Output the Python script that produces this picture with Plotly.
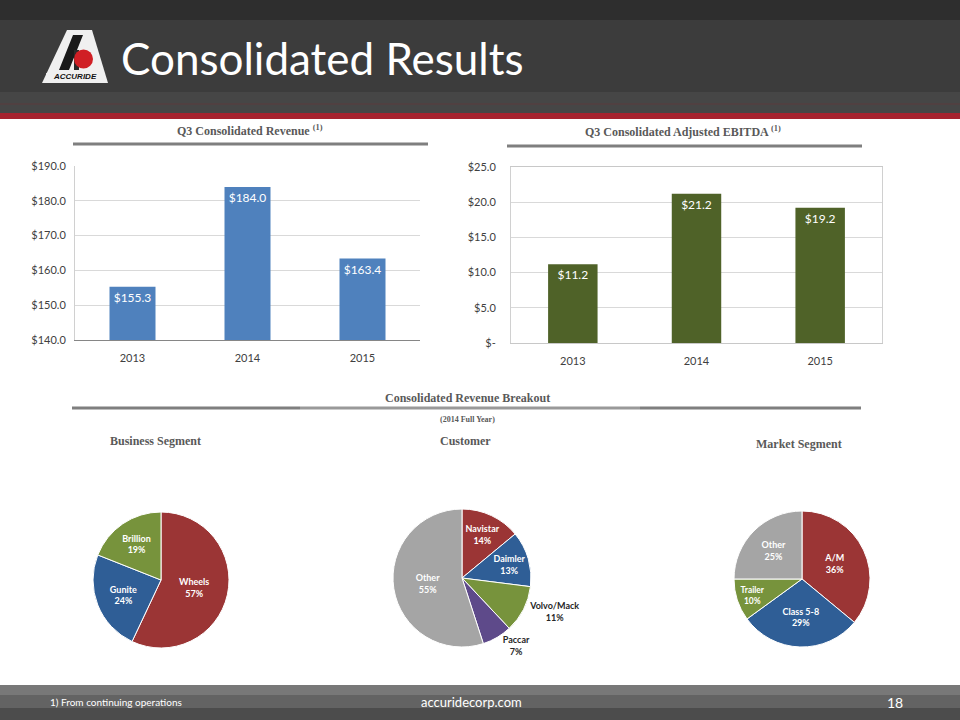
import plotly.graph_objects as go

# Q3 bar charts
years = ["2013", "2014", "2015"]
revenue = [155.3, 184.0, 163.4]
ebitda = [11.2, 21.2, 19.2]
revenue_ticks = [140, 150, 160, 170, 180, 190]
revenue_ticktext = ["$140.0", "$150.0", "$160.0", "$170.0", "$180.0", "$190.0"]
ebitda_ticks = [0, 5, 10, 15, 20, 25]
ebitda_ticktext = ["$-", "$5.0", "$10.0", "$15.0", "$20.0", "$25.0"]

# 2014 full year revenue breakout
business_labels = ["Wheels", "Gunite", "Brillion"]
business_pct = [57, 24, 19]
customer_labels = ["Navistar", "Daimler", "Volvo/Mack", "Paccar", "Other"]
customer_pct = [14, 13, 11, 7, 55]
market_labels = ["A/M", "Class 5-8", "Trailer", "Other"]
market_pct = [36, 29, 10, 25]

W, H = 960, 720
RED, BLUE, GREEN, PURPLE, GRAY = "#9B3535", "#2F5E96", "#77933C", "#5E4A8A", "#A5A5A5"
LABEL_FONT = "Lato"
SERIF = "Liberation Serif"


def px(x):
    return x / W


def py(y):
    return 1 - y / H


fig = go.Figure()

# bar charts
fig.add_trace(go.Bar(
    x=years, y=revenue, xaxis="x", yaxis="y",
    marker=dict(color="#4F81BD", line=dict(width=0)), width=0.4,
    texttemplate="$%{y:.1f}", textposition="inside", insidetextanchor="end",
    textfont=dict(color="white", size=12, family=LABEL_FONT),
    hoverinfo="x+y",
))
fig.add_trace(go.Bar(
    x=years, y=ebitda, xaxis="x2", yaxis="y2",
    marker=dict(color="#4F6228", line=dict(width=0)), width=0.4,
    texttemplate="$%{y:.1f}", textposition="inside", insidetextanchor="end",
    textfont=dict(color="white", size=12, family=LABEL_FONT),
    hoverinfo="x+y",
))


def pie(labels, values, colors, cx, cy, r, positions=None):
    fig.add_trace(go.Pie(
        labels=labels, values=values, sort=False, direction="clockwise", rotation=0,
        marker=dict(colors=colors, line=dict(color="white", width=1)),
        texttemplate="<b>%{label}<br>%{value}%</b>",
        textposition=positions or "inside", insidetextorientation="horizontal",
        textfont=dict(family=LABEL_FONT, size=9),
        insidetextfont=dict(color="white"),
        outsidetextfont=dict(color="#262626"),
        domain=dict(x=[px(cx - r), px(cx + r)], y=[py(cy + r), py(cy - r)]),
        showlegend=False, hoverinfo="label+percent",
    ))


pie(business_labels, business_pct, [RED, BLUE, GREEN], 161, 580, 68)
pie(customer_labels, customer_pct, [RED, BLUE, GREEN, PURPLE, GRAY], 462, 578, 69,
    ["inside", "inside", "outside", "outside", "inside"])
pie(market_labels, market_pct, [RED, BLUE, GREEN, GRAY], 802, 579, 68)

tickfont = dict(family=LABEL_FONT, size=11, color="#404040")
fig.update_layout(
    width=W, height=H, margin=dict(l=0, r=0, t=0, b=0, pad=0, autoexpand=False),
    paper_bgcolor="white", plot_bgcolor="white", showlegend=False,
    xaxis=dict(domain=[px(75), px(420)], anchor="y", showgrid=False, showline=True,
               linecolor="#868686", tickfont=tickfont, ticks="", automargin=False,
               ticklabelstandoff=8),
    yaxis=dict(domain=[py(340), py(166)], anchor="x", range=[140, 190],
               tickvals=revenue_ticks, ticktext=revenue_ticktext,
               gridcolor="#D9D9D9", showline=True, linecolor="#D0D0D0",
               tickfont=tickfont, ticks="", zeroline=False, automargin=False,
               ticklabelstandoff=6),
    xaxis2=dict(domain=[px(511), px(882)], anchor="y2", showgrid=False, showline=True,
                linecolor="#C8C8C8", mirror=True, tickfont=tickfont, ticks="",
                automargin=False, ticklabelstandoff=8),
    yaxis2=dict(domain=[py(343), py(167)], anchor="x2", range=[0, 25],
                tickvals=ebitda_ticks, ticktext=ebitda_ticktext,
                gridcolor="#D9D9D9", showline=True, linecolor="#D0D0D0", mirror=True,
                tickfont=tickfont, ticks="", zeroline=False, automargin=False,
                ticklabelstandoff=12),
)

shapes = []


def rect(x0, y0, x1, y1, color, layer="below"):
    shapes.append(dict(type="rect", xref="paper", yref="paper", x0=px(x0), x1=px(x1),
                       y0=py(y1), y1=py(y0), fillcolor=color, line=dict(width=0), layer=layer))


def line(x0, y0, x1, y1, color, width):
    shapes.append(dict(type="line", xref="paper", yref="paper", x0=px(x0), x1=px(x1),
                       y0=py(y0), y1=py(y1), line=dict(color=color, width=width)))


def path(points, color):
    d = "M " + " L ".join(f"{px(x)},{py(y)}" for x, y in points) + " Z"
    shapes.append(dict(type="path", xref="paper", yref="paper", path=d,
                       fillcolor=color, line=dict(width=0)))


# header band (asphalt look approximated with flat tones)
rect(0, 0, 960, 113, "#3C3C3C")
rect(0, 0, 960, 20, "#2E2E2E")
rect(0, 92, 960, 113, "#464646")
line(0, 104, 960, 104, "#5A3A3C", 1)
rect(0, 113, 960, 119, "#A6232F")

# logo
path([(67, 30), (92, 30), (108, 83), (42, 83)], "#F0F0F0")
path([(73, 35), (83, 35), (69, 70), (59, 70)], "#1A1A1A")
path([(74, 50), (79, 50), (79, 70), (74, 70)], "#2A2A2A")
shapes.append(dict(type="circle", xref="paper", yref="paper",
                   x0=px(74), x1=px(93), y0=py(68.5), y1=py(49.5),
                   fillcolor="#D01F25", line=dict(width=0)))
rect(46, 73, 104, 80, "#D8D8D8")

# section underlines
line(73, 144, 428, 144, "#7F7F7F", 3)
line(507, 146, 862, 146, "#7F7F7F", 3)
line(72, 408, 300, 408, "#7F7F7F", 3)
line(300, 408, 640, 408, "#999999", 3)
line(640, 408, 861, 408, "#7F7F7F", 3)

# footer
rect(0, 685, 960, 695, "#787878")
rect(0, 695, 960, 708, "#636363")
rect(0, 708, 960, 720, "#4C4C4C")

fig.update_layout(shapes=shapes)

annotations = []


def text(x, y, s, size, color, family, anchor="center"):
    annotations.append(dict(x=px(x), y=py(y), xref="paper", yref="paper", text=s,
                            showarrow=False, xanchor=anchor, yanchor="middle",
                            font=dict(size=size, color=color, family=family)))


text(119, 58, "Consolidated Results", 44, "white", "Lato", "left")
text(75, 76.5, "<b><i>ACCURIDE</i></b>", 8, "#111111", "Liberation Sans")

text(250, 130, "<b>Q3 Consolidated Revenue <sup>(1)</sup></b>", 12, "#595959", SERIF)
text(683, 131, "<b>Q3 Consolidated Adjusted EBITDA <sup>(1)</sup></b>", 12, "#595959", SERIF)
text(467, 398, "<b>Consolidated Revenue Breakout</b>", 12, "#595959", SERIF)
text(467, 419, "<b>(2014 Full Year)</b>", 8, "#595959", SERIF)
text(155, 441, "<b>Business Segment</b>", 12, "#595959", SERIF)
text(465, 441, "<b>Customer</b>", 12, "#595959", SERIF)
text(799, 444, "<b>Market Segment</b>", 12, "#595959", SERIF)

text(48, 702, "1) From continuing operations", 10, "white", LABEL_FONT, "left")
text(471, 702, "accuridecorp.com", 13, "white", LABEL_FONT)
text(895, 702, "18", 14, "white", LABEL_FONT)

fig.update_layout(annotations=annotations)

# drop the default page margin so the slide fills the window
fig.write_html(
    "out.html",
    config={"displayModeBar": False},
    post_script="document.body.style.margin='0';",
)
